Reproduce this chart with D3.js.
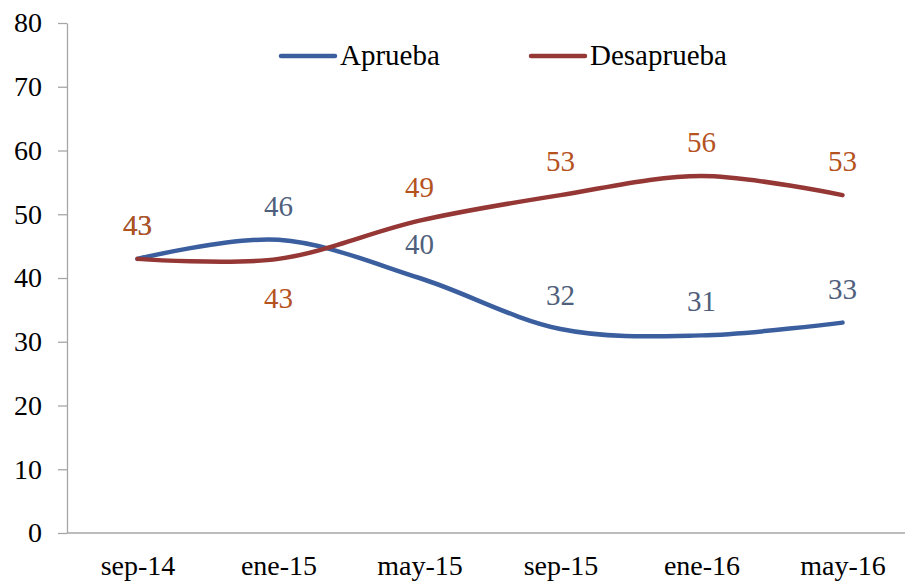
<!DOCTYPE html>
<html><head><meta charset="utf-8">
<script src="https://cdn.jsdelivr.net/npm/d3@7"></script>
<style>body{margin:0;background:#fff}svg{display:block}</style>
</head><body><svg id="c" width="905" height="582"></svg>
<script>
const categories = ["sep-14","ene-15","may-15","sep-15","ene-16","may-16"];
const aprueba = [43,46,40,32,31,33];
const desaprueba = [43,43,49,53,56,53];
const yTicks = [0,10,20,30,40,50,60,70,80];
const seriesNames = ["Aprueba","Desaprueba"];
const desapruebaLabelSide = ["above","below","above","above","above","above"];

(function(){
const svg = d3.select("#c");
const font = "'Liberation Serif','Times New Roman',serif";
const pLeft = 67, pRight = 913, pTop = 23, pBottom = 533;
const x = d3.scalePoint().domain(categories).range([pLeft, pRight]).padding(0.5);
const y = d3.scaleLinear().domain([0,80]).range([pBottom, pTop]);

const axisColor = "#a6a6a6";
const ya = svg.append("g").attr("transform",`translate(${pLeft},0)`)
  .call(d3.axisLeft(y).tickValues(yTicks).tickSize(9).tickPadding(16).tickSizeOuter(0));
ya.select(".domain").attr("stroke",axisColor).attr("stroke-width",1.3);
ya.selectAll(".tick line").attr("stroke",axisColor).attr("stroke-width",1.3);
ya.selectAll(".tick text").attr("font-family",font).attr("font-size",28).attr("fill","#000");
const xa = svg.append("g").attr("transform",`translate(0,${pBottom})`)
  .call(d3.axisBottom(x).tickSize(0).tickPadding(22).tickSizeOuter(0));
xa.select(".domain").attr("stroke",axisColor).attr("stroke-width",1.3).attr("d",`M${pLeft},0H${pRight}`);
xa.selectAll(".tick text").attr("font-family",font).attr("font-size",28).attr("fill","#000");

const colors = ["#3b5e9f","#953735"];
const labelColors = ["#4f5f7c","#b5531f"];
const line = d3.line().x((d,i)=>x(categories[i])).y(d=>y(d)).curve(d3.curveCardinal.tension(0));
[aprueba, desaprueba].forEach((s,k)=>{
  svg.append("path").datum(s).attr("d",line).attr("fill","none")
    .attr("stroke",colors[k]).attr("stroke-width",4.5).attr("stroke-linecap","round").attr("stroke-linejoin","round");
});
svg.append("g").selectAll("text").data(aprueba).join("text")
  .attr("x",(d,i)=>x(categories[i])).attr("y",d=>y(d)-24)
  .attr("text-anchor","middle").attr("font-family",font).attr("font-size",29)
  .attr("fill",labelColors[0]).text(d=>d);
svg.append("g").selectAll("text").data(desaprueba).join("text")
  .attr("x",(d,i)=>x(categories[i])).attr("y",(d,i)=>desapruebaLabelSide[i]==="below"? y(d)+49 : y(d)-24)
  .attr("text-anchor","middle").attr("font-family",font).attr("font-size",29)
  .attr("fill",labelColors[1]).text(d=>d);

const legX = [281, 531];
seriesNames.forEach((n,k)=>{
  const g = svg.append("g");
  g.append("line").attr("x1",legX[k]).attr("x2",legX[k]+54).attr("y1",56).attr("y2",56)
    .attr("stroke",colors[k]).attr("stroke-width",4.5).attr("stroke-linecap","round");
  g.append("text").attr("x",legX[k]+59).attr("y",65).attr("font-family",font).attr("font-size",29)
    .attr("fill","#000").text(n);
});
})();
</script></body></html>
